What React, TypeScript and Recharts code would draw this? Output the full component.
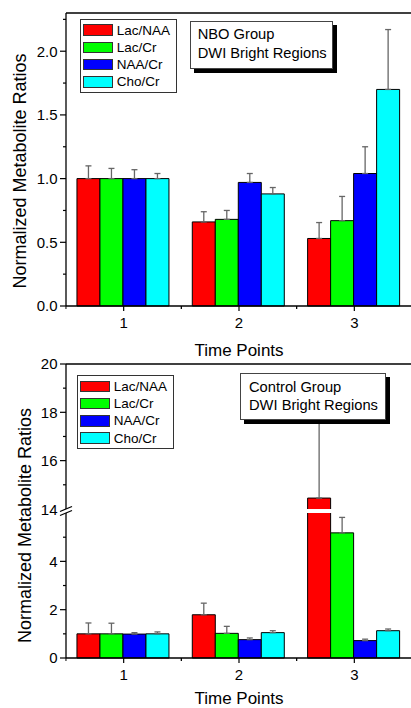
import React from "react";
import {
    Bar,
    BarChart,
    ErrorBar,
    Legend,
    ReferenceArea,
    ReferenceLine,
    XAxis,
    YAxis,
} from "recharts";

const categories = ["1", "2", "3"];
const seriesNames = ["Lac/NAA", "Lac/Cr", "NAA/Cr", "Cho/Cr"];
const seriesColors = ["#FF0000", "#00FF00", "#0000FF", "#00FFFF"];

// NBO group
const nboLacNaa = [1.0, 0.66, 0.53];
const nboLacNaaErr = [0.1, 0.08, 0.125];
const nboLacCr = [1.0, 0.68, 0.67];
const nboLacCrErr = [0.08, 0.07, 0.19];
const nboNaaCr = [1.0, 0.97, 1.04];
const nboNaaCrErr = [0.07, 0.07, 0.21];
const nboChoCr = [1.0, 0.88, 1.7];
const nboChoCrErr = [0.04, 0.05, 0.47];

// control group
const ctrlLacNaa = [1.0, 1.79, 14.45];
const ctrlLacNaaErr = [0.45, 0.48, 5.0];
const ctrlLacCr = [1.0, 1.02, 5.18];
const ctrlLacCrErr = [0.44, 0.29, 0.64];
const ctrlNaaCr = [0.99, 0.76, 0.72];
const ctrlNaaCrErr = [0.06, 0.07, 0.06];
const ctrlChoCr = [1.0, 1.05, 1.13];
const ctrlChoCrErr = [0.08, 0.08, 0.07];

const nboTicks = [0, 0.25, 0.5, 0.75, 1, 1.25, 1.5, 1.75, 2, 2.25];
const ctrlTicksLow = [0, 1, 2, 3, 4, 5];
const ctrlTicksHigh = [14, 15, 16, 17, 18, 19, 20];

// broken axis: 6..14 cut out (with a small gap)
const BREAK_SHIFT = 7.83;
const toDisplay = (v: number) => (v > 10 ? v - BREAK_SHIFT : v);
const fromDisplay = (d: number) => (d > 6.1 ? Math.round(d + BREAK_SHIFT) : d);

const keys = ["lacNaa", "lacCr", "naaCr", "choCr"];

const nboData = categories.map((t, i) => ({
    t,
    lacNaa: nboLacNaa[i],
    lacNaaErr: [0, nboLacNaaErr[i]],
    lacCr: nboLacCr[i],
    lacCrErr: [0, nboLacCrErr[i]],
    naaCr: nboNaaCr[i],
    naaCrErr: [0, nboNaaCrErr[i]],
    choCr: nboChoCr[i],
    choCrErr: [0, nboChoCrErr[i]],
}));

const ctrlData = categories.map((t, i) => ({
    t,
    lacNaa: toDisplay(ctrlLacNaa[i]),
    lacNaaErr: [0, ctrlLacNaaErr[i]],
    lacCr: toDisplay(ctrlLacCr[i]),
    lacCrErr: [0, ctrlLacCrErr[i]],
    naaCr: toDisplay(ctrlNaaCr[i]),
    naaCrErr: [0, ctrlNaaCrErr[i]],
    choCr: toDisplay(ctrlChoCr[i]),
    choCrErr: [0, ctrlChoCrErr[i]],
}));

const FONT = '"Liberation Sans", Arial, sans-serif';
const HALF_BAND = 57.7;

const renderXTick = (props: any) => {
    const { x, y, payload } = props;
    return (
        <g>
            <line x1={x} x2={x} y1={y} y2={y + 5} stroke="#000" strokeWidth={1.2} />
            <line x1={x - HALF_BAND} x2={x - HALF_BAND} y1={y} y2={y + 3} stroke="#000" />
            <line x1={x + HALF_BAND} x2={x + HALF_BAND} y1={y} y2={y + 3} stroke="#000" />
            <text x={x} y={y + 22} textAnchor="middle" fontSize={15} fill="#000">
                {payload.value}
            </text>
        </g>
    );
};

const nboYTick = (props: any) => {
    const { x, y, payload } = props;
    const v = payload.value;
    const major = Math.abs(v * 2 - Math.round(v * 2)) < 1e-6;
    return (
        <g>
            <line x1={x - (major ? 6 : 3)} x2={x} y1={y} y2={y} stroke="#000" strokeWidth={1.2} />
            {major && (
                <text x={x - 8.5} y={y} dy="0.36em" textAnchor="end" fontSize={15} fill="#000">
                    {v.toFixed(1)}
                </text>
            )}
        </g>
    );
};

const ctrlYTick = (props: any) => {
    const { x, y, payload } = props;
    const raw = fromDisplay(payload.value);
    const major = raw % 2 === 0;
    if (raw === 14) {
        return (
            <g>
                <polygon
                    points={`${x - 6},${y + 2.5} ${x + 6},${y - 2.5} ${x + 6},${y + 1.5} ${x - 6},${y + 6.5}`}
                    fill="#fff"
                />
                <line x1={x - 6} y1={y + 2.5} x2={x + 6} y2={y - 2.5} stroke="#000" strokeWidth={1.2} />
                <line x1={x - 6} y1={y + 6.5} x2={x + 6} y2={y + 1.5} stroke="#000" strokeWidth={1.2} />
                <text x={x - 8.5} y={y + 1} dy="0.36em" textAnchor="end" fontSize={15} fill="#000">
                    14
                </text>
            </g>
        );
    }
    return (
        <g>
            <line x1={x - (major ? 6 : 3)} x2={x} y1={y} y2={y} stroke="#000" strokeWidth={1.2} />
            {major && (
                <text x={x - 8.5} y={y} dy="0.36em" textAnchor="end" fontSize={15} fill="#000">
                    {raw}
                </text>
            )}
        </g>
    );
};

const xLabel = (baseline: number) => (props: any) => {
    const vb = props.viewBox || {};
    return (
        <text x={vb.x + vb.width / 2} y={vb.y + baseline} textAnchor="middle" fontSize={17} fill="#000">
            Time Points
        </text>
    );
};

const yLabel = (bx: number, cy: number) => () =>
    (
        <text
            x={bx}
            y={cy}
            transform={`rotate(-90, ${bx}, ${cy})`}
            textAnchor="middle"
            fontSize={18}
            fill="#000"
        >
            Normalized Metabolite Ratios
        </text>
    );

const renderLegend = (props: any) => {
    const payload = [...(props.payload || [])].sort(
        (a: any, b: any) => seriesNames.indexOf(a.value) - seriesNames.indexOf(b.value)
    );
    return (
        <div
            style={{
                border: "1px solid #333",
                background: "#fff",
                padding: "1.4px 6px 1.4px 2.3px",
                fontFamily: FONT,
            }}
        >
            {payload.map((e: any) => (
                <div key={e.value} style={{ display: "flex", alignItems: "center", height: 17.3 }}>
                    <span
                        style={{
                            display: "inline-block",
                            width: 27.4,
                            height: 9.5,
                            background: e.color,
                            border: "1px solid #333",
                        }}
                    />
                    <span style={{ marginLeft: 4, fontSize: 13.5, color: "#000", lineHeight: "15px" }}>
                        {e.value}
                    </span>
                </div>
            ))}
        </div>
    );
};

const boxStyle: React.CSSProperties = {
    position: "absolute",
    background: "#fff",
    border: "1px solid #444",
    boxShadow: "4px 4px 0 #000",
    fontSize: 14.7,
    lineHeight: "19px",
    color: "#000",
    boxSizing: "border-box",
    whiteSpace: "nowrap",
};

const renderBars = () =>
    keys.map((k, i) => (
        <Bar
            key={k}
            dataKey={k}
            name={seriesNames[i]}
            fill={seriesColors[i]}
            stroke="#000"
            strokeWidth={1}
            isAnimationActive={false}
        >
            <ErrorBar dataKey={k + "Err"} width={3} stroke="#666" strokeWidth={1.3} direction="y" />
        </Bar>
    ));

export default function App() {
    const ctrlMax = toDisplay(20);
    const ctrlTicks = [...ctrlTicksLow, ...ctrlTicksHigh.map(toDisplay)];
    return (
        <div
            style={{
                position: "absolute",
                left: 0,
                top: 0,
                width: 411,
                height: 708,
                overflow: "hidden",
                background: "#fff",
                fontFamily: FONT,
            }}
        >
            <div style={{ position: "absolute", left: 0, top: 0 }}>
                <BarChart
                    width={412}
                    height={362}
                    data={nboData}
                    margin={{ top: 13, right: 0, bottom: 0, left: 0 }}
                    barCategoryGap="9.5%"
                    barGap={0}
                >
                    <XAxis
                        dataKey="t"
                        height={56}
                        tickLine={false}
                        tickSize={0}
                        tickMargin={0}
                        interval={0}
                        tick={renderXTick}
                        axisLine={{ stroke: "#000", strokeWidth: 1.3 }}
                        label={xLabel(49.5)}
                    />
                    <YAxis
                        width={66}
                        domain={[0, 2.3]}
                        ticks={nboTicks}
                        interval={0}
                        tickLine={false}
                        tickSize={0}
                        tickMargin={0}
                        tick={nboYTick}
                        axisLine={{ stroke: "#000", strokeWidth: 1.3 }}
                        label={yLabel(26, 171)}
                    />
                    <ReferenceLine y={2.3} stroke="#000" strokeWidth={1.3} />
                    {renderBars()}
                    <Legend
                        layout="vertical"
                        align="center"
                        verticalAlign="middle"
                        content={renderLegend}
                        wrapperStyle={{ left: 80, top: 19, width: "auto", height: "auto" }}
                    />
                </BarChart>
            </div>
            <div style={{ ...boxStyle, left: 190, top: 21, width: 143, height: 48, padding: "3px 0 0 6.7px" }}>
                NBO Group
                <br />
                DWI Bright Regions
            </div>

            <div style={{ position: "absolute", left: 0, top: 350 }}>
                <BarChart
                    width={412}
                    height={358}
                    data={ctrlData}
                    margin={{ top: 14, right: 0, bottom: 0, left: 0 }}
                    barCategoryGap="9.5%"
                    barGap={0}
                >
                    <XAxis
                        dataKey="t"
                        height={50}
                        tickLine={false}
                        tickSize={0}
                        tickMargin={0}
                        interval={0}
                        tick={renderXTick}
                        axisLine={{ stroke: "#000", strokeWidth: 1.3 }}
                        label={xLabel(45.5)}
                    />
                    <YAxis
                        width={66}
                        domain={[0, ctrlMax]}
                        ticks={ctrlTicks}
                        interval={0}
                        tickLine={false}
                        tickSize={0}
                        tickMargin={0}
                        tick={ctrlYTick}
                        axisLine={{ stroke: "#000", strokeWidth: 1.3 }}
                        label={yLabel(30.5, 175.5)}
                    />
                    <ReferenceLine y={ctrlMax} stroke="#000" strokeWidth={1.3} />
                    {renderBars()}
                    <ReferenceArea
                        x1="3"
                        x2="3"
                        y1={6.0}
                        y2={6.17}
                        fill="#fff"
                        fillOpacity={1}
                        stroke="none"
                        ifOverflow="hidden"
                        zIndex={1000}
                    />
                    <Legend
                        layout="vertical"
                        align="center"
                        verticalAlign="middle"
                        content={renderLegend}
                        wrapperStyle={{ left: 77, top: 25.3, width: "auto", height: "auto" }}
                    />
                </BarChart>
            </div>
            <div
                style={{ ...boxStyle, left: 240, top: 372.7, width: 146, height: 47, padding: "4px 0 0 8px", lineHeight: "18px" }}
            >
                Control Group
                <br />
                DWI Bright Regions
            </div>
        </div>
    );
}
